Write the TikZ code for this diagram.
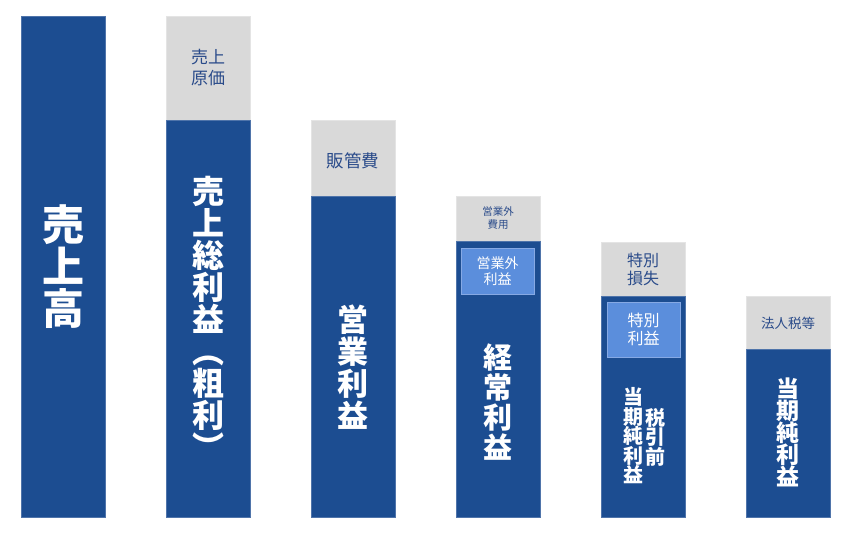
\documentclass[tikz,border=0pt]{standalone}
\usepackage{fontspec}
\newfontfamily\jp{Noto Sans CJK JP}
\definecolor{barblue}{HTML}{1C4D91}
\definecolor{baredge}{HTML}{4F74AA}
\definecolor{boxgray}{HTML}{D9D9D9}
\definecolor{grayedge}{HTML}{E4E4E4}
\definecolor{lightbox}{HTML}{5B8EDC}
\definecolor{lightedge}{HTML}{86A9E4}
\definecolor{labeltext}{HTML}{2A4B8A}
\tikzset{
  bluebar/.style={fill=barblue, draw=baredge, line width=0.6pt, inner sep=0pt, outer sep=0pt, minimum width=84pt, anchor=north west},
  graybar/.style={fill=boxgray, draw=grayedge, line width=0.6pt, inner sep=0pt, outer sep=0pt, minimum width=84pt, anchor=north west},
  innerbox/.style={fill=lightbox, draw=lightedge, line width=0.8pt, inner sep=0pt, outer sep=0pt, anchor=north west},
  vtext/.style={text=white, align=center, inner sep=0pt, font=\jp\bfseries},
  glabel/.style={text=labeltext, align=center, inner sep=0pt},
  wlabel/.style={text=white, align=center, inner sep=0pt}
}
\begin{document}
\begin{tikzpicture}[x=1pt,y=-1pt]
\useasboundingbox (0,0) rectangle (857,537);
% bars
\node[bluebar, minimum height=501pt] (b1) at (21,16) {};
\node[graybar, minimum height=104pt] (g2) at (166,16) {};
\node[bluebar, minimum height=397pt] (b2) at (166,120) {};
\node[graybar, minimum height=76pt] (g3) at (311,120) {};
\node[bluebar, minimum height=321pt] (b3) at (311,196) {};
\node[graybar, minimum height=45pt] (g4) at (456,196) {};
\node[bluebar, minimum height=276pt] (b4) at (456,241) {};
\node[innerbox, minimum width=73pt, minimum height=46pt] (i4) at (461,248) {};
\node[graybar, minimum height=54pt] (g5) at (601,242) {};
\node[bluebar, minimum height=221pt] (b5) at (601,296) {};
\node[innerbox, minimum width=73pt, minimum height=55pt] (i5) at (607,302) {};
\node[graybar, minimum height=53pt] (g6) at (746,296) {};
\node[bluebar, minimum height=168pt] (b6) at (746,349) {};
% texts
\node[vtext, font=\jp\bfseries\fontsize{42}{42}\selectfont] (t1) at (63,267) {売\\上\\高};
\node[glabel, font=\jp\fontsize{17}{21}\selectfont] (l2) at (208,68) {売上\\原価};
\node[vtext, font=\jp\bfseries\fontsize{32}{32}\selectfont] (t2) at (208,318) {売\\上\\総\\利\\益\\︵\\粗\\利\\︶};
\node[glabel, font=\jp\fontsize{17.5}{20}\selectfont] (l3) at (353,161) {販管費};
\node[vtext, font=\jp\bfseries\fontsize{31}{32}\selectfont] (t3) at (353,367) {営\\業\\利\\益};
\node[glabel, font=\jp\fontsize{10.5}{13}\selectfont] (l4) at (498,218) {営業外\\費用};
\node[wlabel, font=\jp\fontsize{14}{16}\selectfont] (w4) at (i4.center) {営業外\\利益};
\node[vtext, font=\jp\bfseries\fontsize{29}{30}\selectfont] (t4) at (498,402) {経\\常\\利\\益};
\node[glabel, font=\jp\fontsize{16}{18}\selectfont] (l5) at (643,269) {特別\\損失};
\node[wlabel, font=\jp\fontsize{16}{17.5}\selectfont] (w5) at (i5.center) {特別\\利益};
\node[vtext, font=\jp\bfseries\fontsize{20}{19.5}\selectfont] (t5a) at (633,436) {当\\期\\純\\利\\益};
\node[vtext, font=\jp\bfseries\fontsize{20}{19}\selectfont] (t5b) at (655,437) {税\\引\\前};
\node[glabel, font=\jp\fontsize{13.5}{15}\selectfont] (l6) at (788,323) {法人税等};
\node[vtext, font=\jp\bfseries\fontsize{23}{22}\selectfont] (t6) at (788,432) {当\\期\\純\\利\\益};
\end{tikzpicture}
\end{document}
